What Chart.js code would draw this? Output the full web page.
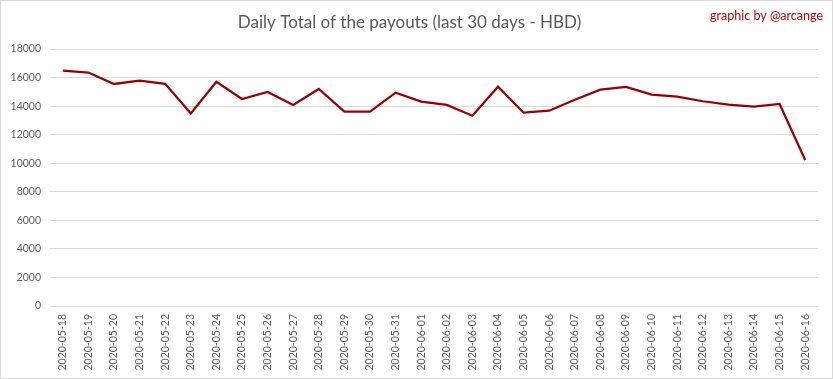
<!DOCTYPE html>
<html>
<head>
<meta charset="utf-8">
<script src="https://cdn.jsdelivr.net/npm/chart.js@4/dist/chart.umd.min.js"></script>
<style>
  html, body { margin: 0; padding: 0; background: #ffffff; }
  #wrap { position: absolute; left: 0; top: 0; width: 833px; height: 379px; box-sizing: border-box; border: 1px solid #d9d9d9; background: #fff; }
  canvas { display: block; }
</style>
</head>
<body>
<div id="wrap"><canvas id="c" width="831" height="377"></canvas></div>
<script>
const categories = [
  "2020-05-18","2020-05-19","2020-05-20","2020-05-21","2020-05-22","2020-05-23","2020-05-24",
  "2020-05-25","2020-05-26","2020-05-27","2020-05-28","2020-05-29","2020-05-30","2020-05-31",
  "2020-06-01","2020-06-02","2020-06-03","2020-06-04","2020-06-05","2020-06-06","2020-06-07",
  "2020-06-08","2020-06-09","2020-06-10","2020-06-11","2020-06-12","2020-06-13","2020-06-14",
  "2020-06-15","2020-06-16"
];
const payouts = [
  16480, 16350, 15550, 15790, 15560, 13480, 15700,
  14500, 14990, 14080, 15200, 13610, 13610, 14940,
  14310, 14080, 13330, 15360, 13540, 13680, 14450,
  15150, 15340, 14800, 14660, 14340, 14100, 13960,
  14150, 10230
];
const yTicks = [0, 2000, 4000, 6000, 8000, 10000, 12000, 14000, 16000, 18000];
const titleText = "Daily Total of the payouts (last 30 days - HBD)";
const creditText = "graphic by @arcange";

const FONT = 'Lato, "Open Sans", "Liberation Sans", sans-serif';

const creditPlugin = {
  id: 'credit',
  afterDraw(chart) {
    const ctx = chart.ctx;
    ctx.save();
    ctx.font = '12.5px ' + FONT;
    ctx.fillStyle = '#c00000';
    ctx.textAlign = 'right';
    ctx.textBaseline = 'middle';
    ctx.fillText(creditText, 822, 15);
    ctx.restore();
  }
};

new Chart(document.getElementById('c'), {
  type: 'line',
  data: {
    labels: categories,
    datasets: [{
      data: payouts,
      borderColor: '#990000',
      backgroundColor: '#990000',
      borderWidth: 2.25,
      pointRadius: 0,
      tension: 0,
      fill: false
    }]
  },
  options: {
    responsive: false,
    animation: false,
    layout: { padding: { left: 0, right: 14, top: 0, bottom: 0 } },
    plugins: {
      legend: { display: false },
      tooltip: { enabled: false },
      title: {
        display: true,
        text: titleText,
        color: '#595959',
        font: { family: FONT, size: 17, weight: 'normal', lineHeight: 1.2 },
        padding: { top: 11, bottom: 16.6 }
      }
    },
    scales: {
      x: {
        offset: true,
        grid: { display: false, drawTicks: false },
        border: { display: false },
        ticks: {
          color: '#595959',
          font: { family: FONT, size: 10.5 },
          minRotation: 90,
          maxRotation: 90,
          autoSkip: false,
          padding: 8
        },
        afterFit(scale) { scale.height = 72; }
      },
      y: {
        min: 0,
        max: 18000,
        afterBuildTicks(scale) { scale.ticks = yTicks.map(v => ({ value: v })); },
        grid: { color: '#d9d9d9', lineWidth: 1, drawTicks: false },
        border: { display: false },
        ticks: {
          color: '#595959',
          font: { family: FONT, size: 10.5 },
          padding: 9,
          callback: (v) => String(v)
        },
        afterFit(scale) { scale.width = 49; }
      }
    }
  },
  plugins: [creditPlugin]
});
</script>
</body>
</html>
